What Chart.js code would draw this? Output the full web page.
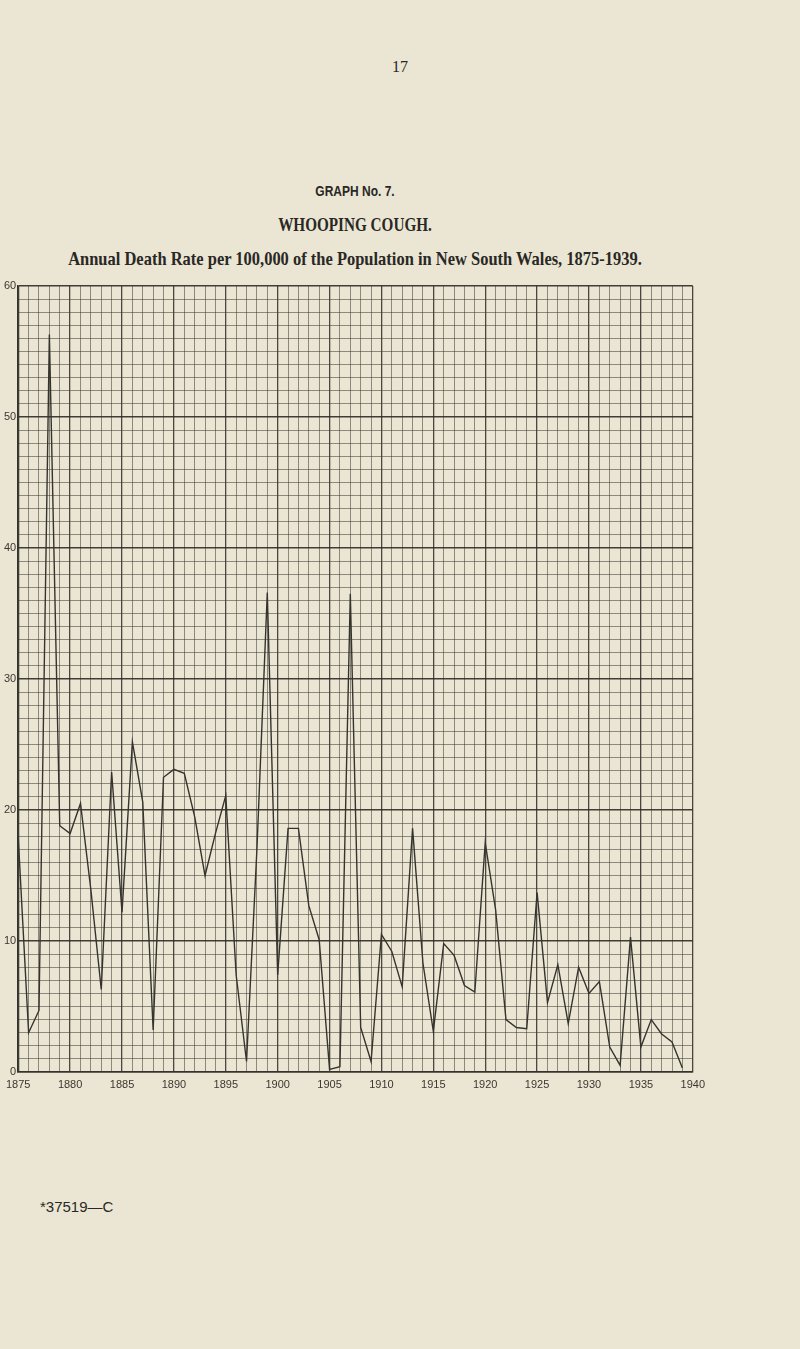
<!DOCTYPE html>
<html>
<head>
<meta charset="utf-8">
<script src="https://cdn.jsdelivr.net/npm/chart.js@4.4.1/dist/chart.umd.min.js"></script>
<style>
  html, body { margin: 0; padding: 0; }
  body { width: 800px; height: 1349px; background: #ebe6d4; position: relative; overflow: hidden; color: #2a2824; }
  .t { position: absolute; left: -45px; width: 800px; text-align: center; white-space: nowrap; }
  #pg { top: 58px; left: 0; font: 16px "Liberation Serif", serif; }
  #gno { top: 182px; font: bold 15px "Liberation Sans", sans-serif; transform: scaleX(0.8); }
  #dis { top: 214px; font: bold 19px "Liberation Serif", serif; transform: scaleX(0.8); }
  #sub { top: 248px; font: bold 19px "Liberation Serif", serif; transform: scaleX(0.867); }
  #foot { position: absolute; left: 40px; top: 1198px; font: 15px "Liberation Sans", sans-serif; }
  #wrap { position: absolute; left: 0; top: 276px; width: 711px; height: 826px; }
</style>
</head>
<body>
<div class="t" id="pg">17</div>
<div class="t" id="gno">GRAPH No. 7.</div>
<div class="t" id="dis">WHOOPING COUGH.</div>
<div class="t" id="sub">Annual Death Rate per 100,000 of the Population in New South Wales, 1875-1939.</div>
<div id="wrap"><canvas id="c"></canvas></div>
<div id="foot">*37519—C</div>
<script>
// annual death rate per 100,000
const years = [
  1875, 1876, 1877, 1878, 1879, 1880, 1881, 1882, 1883, 1884,
  1885, 1886, 1887, 1888, 1889, 1890, 1891, 1892, 1893, 1894,
  1895, 1896, 1897, 1898, 1899, 1900, 1901, 1902, 1903, 1904,
  1905, 1906, 1907, 1908, 1909, 1910, 1911, 1912, 1913, 1914,
  1915, 1916, 1917, 1918, 1919, 1920, 1921, 1922, 1923, 1924,
  1925, 1926, 1927, 1928, 1929, 1930, 1931, 1932, 1933, 1934,
  1935, 1936, 1937, 1938, 1939
];
const rates = [
  17.9, 3.0, 4.7, 56.3, 18.8, 18.2, 20.5, 13.9, 6.3, 22.9,
  12.2, 25.2, 20.6, 3.2, 22.5, 23.1, 22.8, 19.5, 15.0, 18.2,
  21.1, 7.4, 0.8, 17.0, 36.6, 7.4, 18.6, 18.6, 12.7, 10.1,
  0.2, 0.4, 36.5, 3.4, 0.8, 10.5, 9.2, 6.5, 18.6, 8.3,
  3.1, 9.8, 8.9, 6.6, 6.1, 17.5, 12.4, 4.0, 3.4, 3.3,
  13.7, 5.3, 8.2, 3.7, 8.0, 6.0, 6.9, 1.9, 0.5, 10.3,
  1.9, 4.0, 2.9, 2.3, 0.3
];
const xTickLabels = [1875, 1880, 1885, 1890, 1895, 1900, 1905, 1910, 1915, 1920, 1925, 1930, 1935, 1940];
const yTickLabels = [0, 10, 20, 30, 40, 50, 60];

const points = years.map((y, i) => ({ x: y, y: rates[i] }));
const ink = '#35332d';

new Chart(document.getElementById('c'), {
  type: 'line',
  data: {
    datasets: [{
      data: points,
      borderColor: ink,
      borderWidth: 1.4,
      pointRadius: 0,
      tension: 0,
      fill: false
    }]
  },
  options: {
    responsive: true,
    maintainAspectRatio: false,
    animation: false,
    layout: { padding: { top: 10, right: 0, left: 0, bottom: 0 } },
    plugins: { legend: { display: false }, tooltip: { enabled: false } },
    scales: {
      x: {
        type: 'linear',
        min: 1875,
        max: 1940,
        afterFit: s => { s.height = 30; },
        border: { color: ink, width: 1.5 },
        grid: {
          color: c => (c.tick && c.tick.value % 5 === 0) ? 'rgba(45,42,36,0.85)' : 'rgba(60,56,48,0.6)',
          lineWidth: c => (c.tick && c.tick.value % 5 === 0) ? 1.3 : 0.9,
          drawTicks: false
        },
        ticks: {
          stepSize: 1,
          autoSkip: false,
          maxRotation: 0,
          padding: 6,
          color: '#3a3730',
          font: { family: 'Liberation Sans Narrow, Liberation Sans, sans-serif', size: 11 },
          callback: v => xTickLabels.includes(v) ? String(v) : ''
        }
      },
      y: {
        min: 0,
        max: 60,
        afterFit: s => { s.width = 17; },
        border: { color: ink, width: 1.5 },
        grid: {
          color: c => (c.tick && c.tick.value % 10 === 0) ? 'rgba(45,42,36,0.9)' : 'rgba(60,56,48,0.6)',
          lineWidth: c => (c.tick && c.tick.value % 10 === 0) ? 1.4 : 0.9,
          drawTicks: false
        },
        ticks: {
          stepSize: 1,
          autoSkip: false,
          padding: 2,
          color: '#3a3730',
          font: { family: 'Liberation Sans Narrow, Liberation Sans, sans-serif', size: 11 },
          callback: v => yTickLabels.includes(v) ? String(v) : ''
        }
      }
    }
  }
});
</script>
</body>
</html>
